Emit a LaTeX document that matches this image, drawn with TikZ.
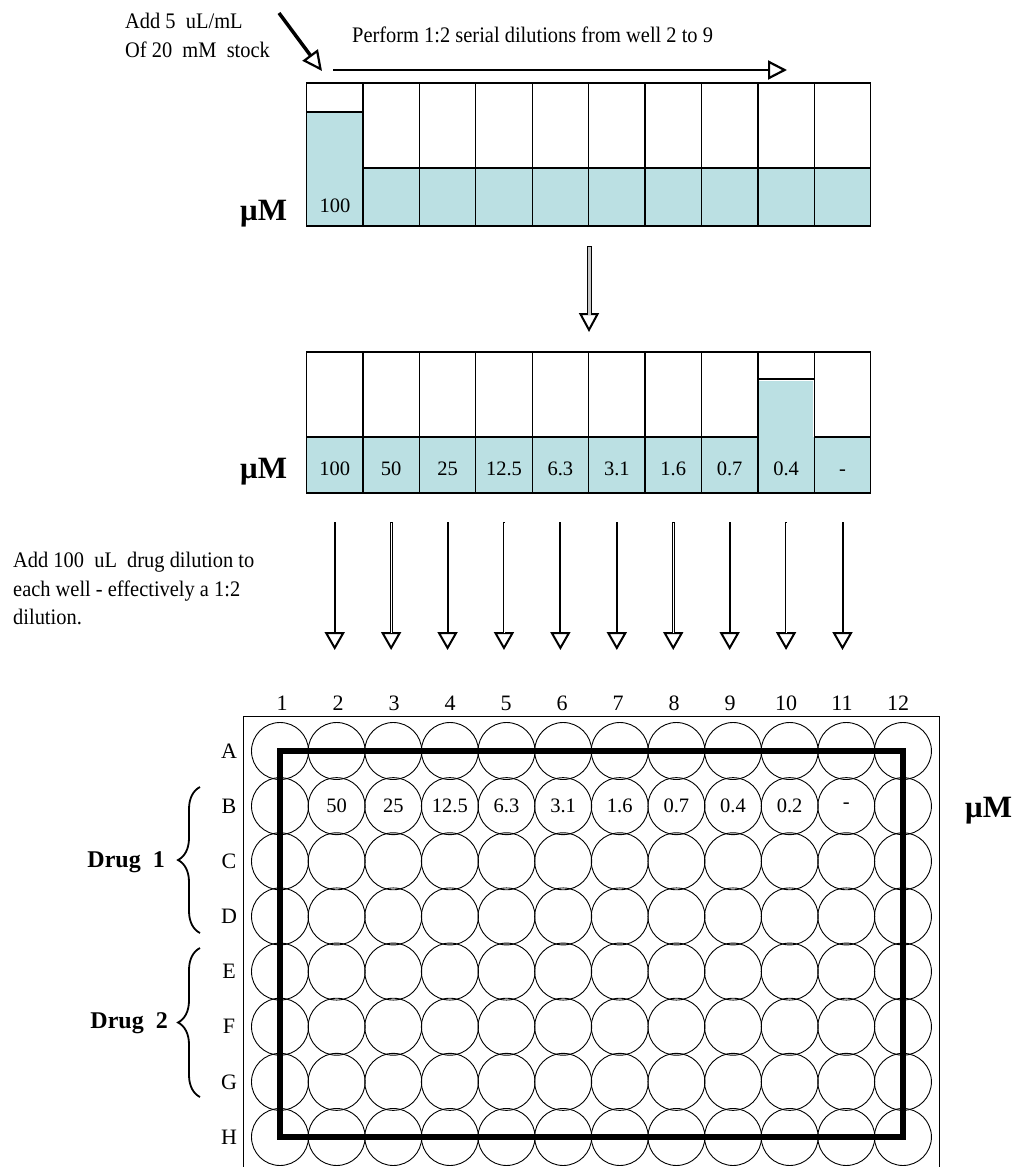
\documentclass[tikz,border=0pt]{standalone}
\usepackage{fontspec}
\setmainfont{Liberation Serif}
\newfontfamily\condserif{Liberation Serif}[FakeStretch=0.92]
\usetikzlibrary{arrows.meta,decorations.pathreplacing}
\definecolor{liquid}{RGB}{187,224,227}
\begin{document}
\begin{tikzpicture}[x=1pt,y=-1pt,
  txt/.style={font=\condserif\fontsize{22.2}{28.5}\selectfont, inner sep=0pt, align=left},
  big/.style={font=\fontsize{31}{31}\selectfont\bfseries, inner sep=0pt, anchor=base west},
  drug/.style={font=\fontsize{24}{24}\selectfont\bfseries, inner sep=0pt, anchor=base east},
  num/.style={font=\fontsize{22}{22}\selectfont, inner sep=0pt},
  val/.style={font=\fontsize{20.5}{20.5}\selectfont, inner sep=0pt, anchor=base},
  tube/.style={draw, line width=1.3pt},
  well/.style={draw, circle, minimum size=57pt, inner sep=0pt, line width=0.9pt},
  opentip/.style={-{Triangle[open,length=18pt,width=20pt,line width=2pt]}},
  solidarrow/.style={opentip, line width=2pt},
  hollowarrow/.style={opentip, line width=2.8pt},
  hollowcore/.style={white, line width=0.8pt, shorten >=17pt, shorten <=1pt},
  bracestyle/.style={decorate, decoration={brace, amplitude=22pt}, line width=1.8pt}
]
\useasboundingbox (0,0) rectangle (1021,1167);

% ---------- texts at top ----------
\node[txt, anchor=north west] (stocktxt) at (125,13) {Add 5\ \ uL/mL\\Of 20\ \ mM\ \ stock};
\node[txt, anchor=base west] (serialtxt) at (352,42) {Perform 1:2 serial dilutions from well 2 to 9};

% ---------- top row of tubes ----------
\foreach \i in {0,...,9}{
  \pgfmathsetmacro\xa{306.5+56.42*\i}
  \pgfmathsetmacro\xb{306.5+56.42*(\i+1)}
  \ifnum\i=0
    \fill[liquid] (\xa,112) rectangle (\xb,226);
    \draw[line width=1.3pt] (\xa,112) -- (\xb,112);
  \else
    \fill[liquid] (\xa,168) rectangle (\xb,226);
    \draw[line width=1.3pt] (\xa,168) -- (\xb,168);
  \fi
  \draw[tube] (\xa,83) rectangle (\xb,226);
}
\node[big] (muA) at (240,220) {μM};
\node[val] (v0) at (335,212) {100};

% arrows at the top
\coordinate (addS) at (279,13);
\coordinate (addE) at (322,71);
\draw[-{Triangle[open,length=20pt,width=19pt,line width=2.2pt]}, line width=3.5pt] (addS) -- (addE);
\coordinate (serS) at (333,70);
\coordinate (serE) at (787,70);
\draw[-{Triangle[open,length=19pt,width=19pt,line width=2.2pt]}, line width=2.2pt] (serS) -- (serE);

% middle arrow
\coordinate (midS) at (589,246);
\coordinate (midE) at (589,332);
\draw[-{Triangle[open,length=19pt,width=20pt,line width=2pt]}, line width=5pt] (midS) -- (midE);
\draw[gray!45, line width=3pt, shorten >=17pt, shorten <=1pt] (midS) -- (midE);

% ---------- middle row of tubes ----------
\foreach \i/\v in {0/100,1/50,2/25,3/12.5,4/6.3,5/3.1,6/1.6,7/0.7,8/0.4,9/-}{
  \pgfmathsetmacro\xa{306.5+56.42*\i}
  \pgfmathsetmacro\xb{306.5+56.42*(\i+1)}
  \pgfmathsetmacro\xc{306.5+56.42*(\i+0.5)}
  \fill[liquid] (\xa,437) rectangle (\xb,493);
  \ifnum\i=8
    \fill[liquid] (\xa,381) rectangle ({\xb-1.5},493);
    \draw[line width=1.3pt] (\xa,379) -- (\xb,379);
  \else
    \draw[line width=1.3pt] (\xa,437) -- (\xb,437);
  \fi
  \draw[tube] (\xa,352) rectangle (\xb,493);
  \node[val] (m\i) at (\xc,475) {\v};
}
\node[big] (muB) at (240,478) {μM};

% ---------- instruction ----------
\node[txt, anchor=north west] (addtxt) at (13,552) {Add 100\ \ uL\ \ drug dilution to\\each well -\ effectively a 1:2\\dilution.};

% ---------- arrows to the plate ----------
\foreach \i in {0,...,9}{
  \pgfmathsetmacro\xc{306.5+56.42*(\i+0.5)}
  \coordinate (aS\i) at (\xc,522);
  \coordinate (aE\i) at (\xc,650);
}
\foreach \i in {0,2,4,5,7,9}{
  \draw[solidarrow] (aS\i) -- (aE\i);
}
\foreach \i in {1,3,6,8}{
  \draw[hollowarrow] (aS\i) -- (aE\i);
  \draw[hollowcore] (aS\i) -- (aE\i);
}

% ---------- plate ----------
\draw[line width=1pt] (243,1167) -- (243,716) -- (939,716) -- (939,1167);
\foreach \r [count=\ri from 0] in {A,B,C,D,E,F,G,H}{
  \foreach \c in {1,...,12}{
    \node[well] (\r\c) at ({280+56.63*(\c-1)},{751+55.14*\ri}) {};
  }
  \node[num] (row\r) at (229,{751+55.14*\ri}) {\r};
}
\foreach \c in {1,...,12}{
  \node[num, anchor=base] (col\c) at ({282+56*(\c-1)},710) {\c};
}
\foreach \c/\v in {2/50,3/25,4/12.5,5/6.3,6/3.1,7/1.6,8/0.7,9/0.4,10/0.2,11/-}{
  \node[val, anchor=center] (lb\c) at (B\c) {\v};
}
\draw[line width=6pt] (A1.center) rectangle (H12.center);
\node[big] (muC) at (965,817) {μM};

% ---------- braces ----------
\coordinate (b1S) at (200,933);
\coordinate (b1E) at (200,787);
\draw[bracestyle] (b1S) -- (b1E);
\coordinate (b2S) at (200,1097);
\coordinate (b2E) at (200,948);
\draw[bracestyle] (b2S) -- (b2E);
\node[drug] (drug1) at (165,867) {Drug\ \ 1};
\node[drug] (drug2) at (168,1028) {Drug\ \ 2};
\end{tikzpicture}
\end{document}
